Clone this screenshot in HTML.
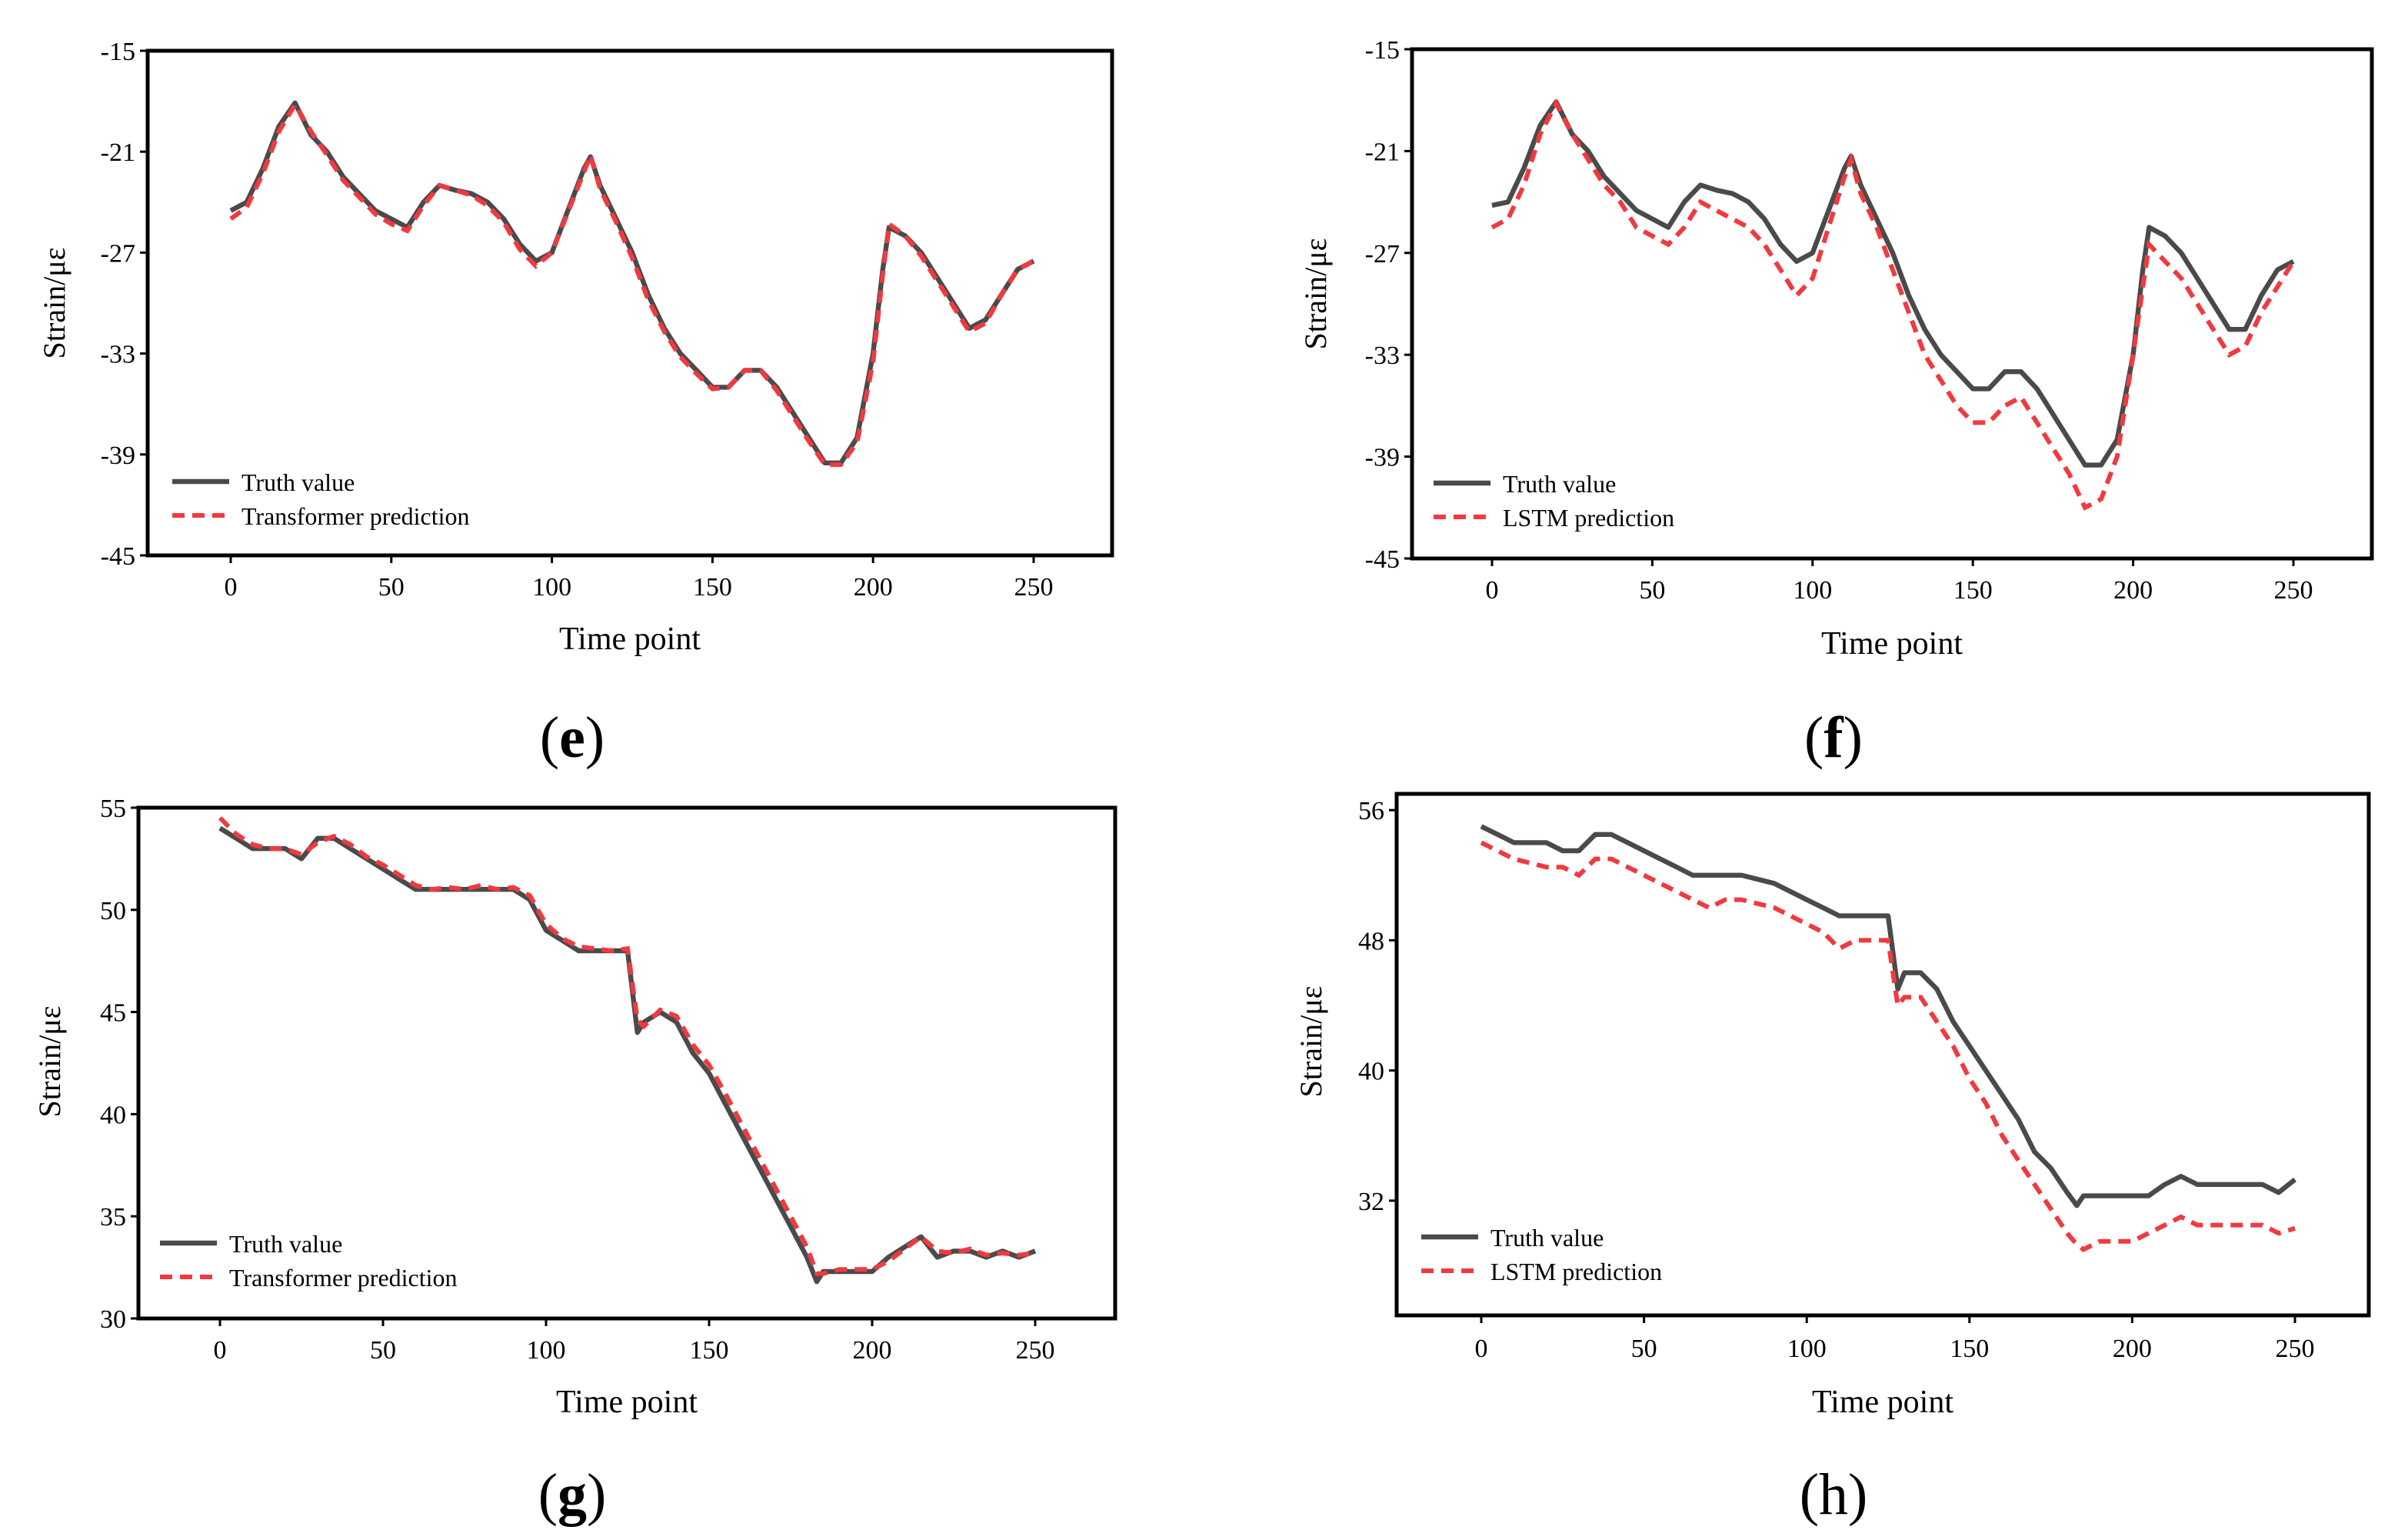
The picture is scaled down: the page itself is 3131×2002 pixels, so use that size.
<!DOCTYPE html>
<html><head><meta charset="utf-8"><style>
html,body{margin:0;padding:0;background:#fff;}
svg{display:block;font-family:"Liberation Serif",serif;}
</style></head><body>
<svg id="fig" width="3131" height="2002" viewBox="0 0 1565.5 1001" xmlns="http://www.w3.org/2000/svg"></svg>
<script>
// ---- data ----
const xTicks = [0,50,100,150,200,250];
const eTime = [0,5,10,15,20,25,30,35,40,45,50,55,60,65,70,75,80,85,90,95,100,105,110,112,115,120,125,130,135,140,145,150,155,160,165,170,175,180,185,190,195,200,203,205,210,215,220,225,230,235,240,245,250];
const eTruth = [-24.5,-24,-22,-19.5,-18.1,-20,-21,-22.5,-23.5,-24.5,-25,-25.5,-24,-23,-23.3,-23.5,-24,-25,-26.5,-27.5,-27,-24.5,-22,-21.3,-23,-25,-27,-29.5,-31.5,-33,-34,-35,-35,-34,-34,-35,-36.5,-38,-39.5,-39.5,-38,-33,-28,-25.5,-26,-27,-28.5,-30,-31.5,-31,-29.5,-28,-27.5];
const ePred = [-25,-24.3,-22.3,-19.8,-18.2,-19.8,-21.2,-22.7,-23.7,-24.7,-25.3,-25.7,-24.2,-23,-23.3,-23.6,-24.2,-25.2,-26.8,-27.8,-27,-24.6,-22.2,-21.2,-23.2,-25.2,-27.3,-29.8,-31.7,-33.2,-34.2,-35.1,-35,-34,-34,-35.2,-36.7,-38.2,-39.6,-39.6,-38.3,-33.5,-28.3,-25.3,-26,-27.2,-28.7,-30.2,-31.7,-31.2,-29.5,-28,-27.5];
const fTruth = [-24.2,-24,-22,-19.5,-18.1,-20,-21,-22.5,-23.5,-24.5,-25,-25.5,-24,-23,-23.3,-23.5,-24,-25,-26.5,-27.5,-27,-24.5,-22,-21.3,-23,-25,-27,-29.5,-31.5,-33,-34,-35,-35,-34,-34,-35,-36.5,-38,-39.5,-39.5,-38,-33,-28,-25.5,-26,-27,-28.5,-30,-31.5,-31.5,-29.5,-28,-27.5];
const fPred = [-25.5,-25,-23,-20,-18.2,-20,-21.5,-23,-24,-25.5,-26,-26.5,-25.5,-24,-24.5,-25,-25.5,-26.5,-28,-29.5,-28.5,-25.5,-22.5,-21.5,-23.5,-25.5,-28,-30.5,-33,-34.5,-36,-37,-37,-36,-35.5,-37,-38.5,-40,-42,-41.5,-39,-33,-29,-26.5,-27.5,-28.5,-30,-31.5,-33,-32.5,-30.5,-29,-27.5];
const gTime = [0,5,10,15,20,25,30,35,40,45,50,55,60,65,70,75,80,85,90,95,100,105,110,115,120,125,128,130,135,140,145,150,155,160,165,170,175,180,183,185,190,195,200,205,210,215,220,225,230,235,240,245,250];
const gTruth = [54,53.5,53,53,53,52.5,53.5,53.5,53,52.5,52,51.5,51,51,51,51,51,51,51,50.5,49,48.5,48,48,48,48,44,44.5,45,44.5,43,42,40.5,39,37.5,36,34.5,33,31.8,32.3,32.3,32.3,32.3,33,33.5,34,33,33.3,33.3,33,33.3,33,33.3];
const gPred = [54.5,53.7,53.2,53,53,52.7,53.3,53.6,53.2,52.6,52.2,51.7,51.2,51,51.1,51,51.2,51,51.1,50.7,49.3,48.6,48.2,48.1,48,48.1,44.6,44.3,45.1,44.8,43.4,42.4,41,39.5,38,36.5,35,33.5,32.2,32.2,32.4,32.4,32.4,32.8,33.4,34,33.3,33.2,33.4,33.1,33.2,33.1,33.2];
const hTime = [0,5,10,20,25,30,35,40,45,50,55,60,65,70,75,80,90,95,100,105,110,115,120,125,128,130,135,140,145,150,155,160,165,170,175,180,183,185,190,200,205,210,215,220,230,240,245,250];
const hTruth = [55,54.5,54,54,53.5,53.5,54.5,54.5,54,53.5,53,52.5,52,52,52,52,51.5,51,50.5,50,49.5,49.5,49.5,49.5,45,46,46,45,43,41.5,40,38.5,37,35,34,32.5,31.7,32.3,32.3,32.3,32.3,33,33.5,33,33,33,32.5,33.3];
const hPred = [54,53.5,53,52.5,52.5,52,53,53,52.5,52,51.5,51,50.5,50,50.5,50.5,50,49.5,49,48.5,47.5,48,48,48,44,44.5,44.5,43,41.5,39.5,38,36,34.5,33,31.5,30,29.3,29,29.5,29.5,30,30.5,31,30.5,30.5,30.5,30,30.3];
const eYTicks = [-15,-21,-27,-33,-39,-45];
const gYTicks = [55,50,45,40,35,30];
const hYTicks = [56,48,40,32];

const panels = [
 {id:'e',box:[96,33,723,361],yr:[-45,-15],xr:[150,672],ticks:eYTicks,t:eTime,a:eTruth,b:ePred,lbl:'Transformer prediction',leg:[112,313],ytitle:[36,197],xtl:381,xt:415,cap:[372,480,true]},
 {id:'f',box:[918,32,1542,363],yr:[-45,-15],xr:[970,1491],ticks:eYTicks,t:eTime,a:fTruth,b:fPred,lbl:'LSTM prediction',leg:[932,314],ytitle:[856,191],xtl:383,xt:418,cap:[1192,480,true]},
 {id:'g',box:[90,525,725,857],yr:[30,55],xr:[143,673],ticks:gYTicks,t:gTime,a:gTruth,b:gPred,lbl:'Transformer prediction',leg:[104,808],ytitle:[33,690],xtl:877,xt:911,cap:[372,972,true]},
 {id:'h',box:[908,516,1540,855],yr:[24.95,57],xr:[963,1492],ticks:hYTicks,t:hTime,a:hTruth,b:hPred,lbl:'LSTM prediction',leg:[924,804],ytitle:[853,677],xtl:876,xt:911,cap:[1192,972,false]}
];
const NS='http://www.w3.org/2000/svg';
const svg=document.getElementById('fig');
function mk(tag,at,parent,txt){const e=document.createElementNS(NS,tag);for(const k in at)e.setAttribute(k,at[k]);if(txt!==undefined)e.textContent=txt;(parent||svg).appendChild(e);return e;}
panels.forEach(p=>{
 const g=mk('g',{});
 
 
 const [x0,y0,x1,y1]=p.box;
 const X=v=>p.xr[0]+(p.xr[1]-p.xr[0])*v/250;
 const Y=v=>y1-(y1-y0)*(v-p.yr[0])/(p.yr[1]-p.yr[0]);
 // series
 const pts=(ys)=>p.t.map((t,i)=>X(t).toFixed(1)+','+Y(ys[i]).toFixed(1)).join(' ');
 const lt=mk('polyline',{points:pts(p.a),fill:'none',stroke:'#4a4a4a','stroke-width':3.2,'stroke-linejoin':'round'},g);
 
 
 const lp=mk('polyline',{points:pts(p.b),fill:'none',stroke:'#f03a3f','stroke-width':3,'stroke-dasharray':'8,5'},g);
 
 
 // box
 const r=mk('rect',{x:x0,y:y0,width:x1-x0,height:y1-y0,fill:'none',stroke:'#000','stroke-width':2.5},g);
 
 
 // y ticks
 p.ticks.forEach(v=>{
  const y=Y(v);
  mk('line',{x1:x0-5,x2:x0,y1:y,y2:y,stroke:'#000','stroke-width':1.5},g);
  const t=mk('text',{x:x0-8,y:y+6,'text-anchor':'end','font-size':17},g,String(v));
  
  
 });
 xTicks.forEach(v=>{
  const x=X(v);
  mk('line',{x1:x,x2:x,y1:y1,y2:y1+5,stroke:'#000','stroke-width':1.5},g);
  const t=mk('text',{x:x,y:p.xtl+6,'text-anchor':'middle','font-size':17},g,String(v));
  
  
 });
 const xt=mk('text',{x:(x0+x1)/2,y:p.xt+7,'text-anchor':'middle','font-size':21},g,'Time point');
 
 
 const yt=mk('text',{x:p.ytitle[0],y:p.ytitle[1],'text-anchor':'middle','font-size':20,transform:`rotate(-90 ${p.ytitle[0]} ${p.ytitle[1]})`,dy:6},g,'Strain/με');
 
 
 // legend
 const [lx,ly]=p.leg;
 mk('line',{x1:lx,x2:lx+37,y1:ly,y2:ly,stroke:'#4a4a4a','stroke-width':3.2},g);
 const l1=mk('text',{x:lx+45,y:ly+6,'font-size':16},g,'Truth value');
 
 
 mk('line',{x1:lx,x2:lx+37,y1:ly+22,y2:ly+22,stroke:'#f03a3f','stroke-width':3,'stroke-dasharray':'8,5'},g);
 const l2=mk('text',{x:lx+45,y:ly+28,'font-size':16},g,p.lbl);
 
 
 // caption
 const c=mk('text',{x:p.cap[0],y:p.cap[1]+12,'text-anchor':'middle','font-size':38},g);
 
 
 mk('tspan',{},c,'(');
 mk('tspan',{'font-weight':p.cap[2]?'bold':'normal'},c,p.id);
 mk('tspan',{},c,')');
});
</script>
</body></html>
